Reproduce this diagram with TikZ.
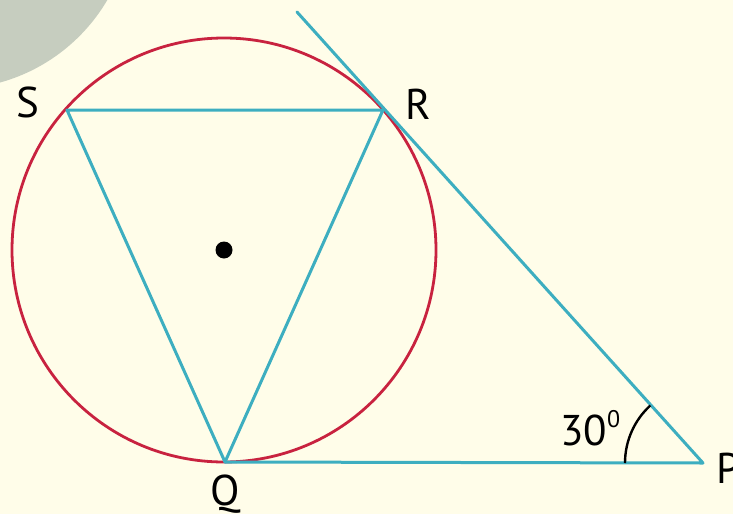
\documentclass[tikz,border=0pt]{standalone}
\usepackage{fontspec}
\setmainfont{PT Sans}
\definecolor{bgc}{HTML}{FFFDE9}
\definecolor{grayc}{HTML}{C6CDBF}
\definecolor{redc}{HTML}{C8223F}
\definecolor{tealc}{HTML}{3DAEC0}
\tikzset{
  lbl/.style={font=\fontsize{43}{43}\selectfont, text=black, inner sep=0pt},
  tline/.style={draw=tealc, line width=3pt, line cap=round, line join=round},
}
\begin{document}
\begin{tikzpicture}[x=1pt,y=-1pt]
\useasboundingbox (0,0) rectangle (733,514);
\fill[bgc] (0,0) rectangle (733,514);
\begin{scope}
  \clip (0,0) rectangle (733,514);
  \fill[grayc] (-48,-91) circle (180);
\end{scope}
\coordinate (O) at (224,250);
\coordinate (S) at (67,110);
\coordinate (R) at (383,110);
\coordinate (Q) at (225,462);
\coordinate (P) at (703,463);
\coordinate (T) at (297,12);
\draw[redc, line width=2.8pt] (O) circle (212);
\draw[tline] (S) -- (R) -- (Q) -- cycle;
\draw[tline] (Q) -- (P) -- (T);
\fill[black] (O) circle (8.5);
\draw[black, line width=2.4pt] (625,463) arc[start angle=180, end angle=227.5, radius=78];
\node[lbl] (Sl) at (28,102) {S};
\node[lbl] (Rl) at (418,104) {R};
\node[lbl] (Ql) at (225,494) {Q};
\node[lbl, anchor=west] (Pl) at (716,468) {P};
\node[lbl, anchor=base west] (ang) at (560,445) {30\raisebox{0.4em}{\fontsize{24}{24}\selectfont 0}};
\end{tikzpicture}
\end{document}
